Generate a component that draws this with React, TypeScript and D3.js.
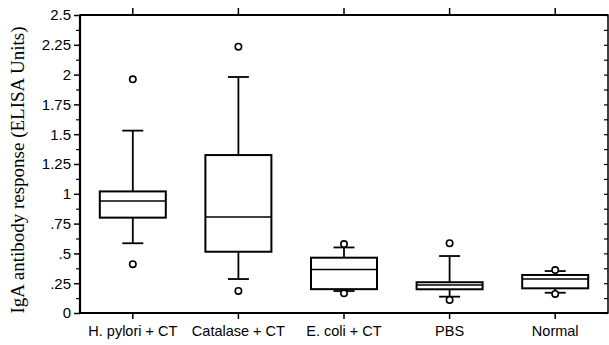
import { useEffect, useRef } from 'react';
import * as d3 from 'd3';

const categories = ['H. pylori + CT', 'Catalase + CT', 'E. coli + CT', 'PBS', 'Normal'];
const whiskerLow = [0.585, 0.285, 0.184, 0.137, 0.17];
const q1 = [0.8, 0.514, 0.2, 0.199, 0.207];
const medians = [0.94, 0.805, 0.365, 0.235, 0.285];
const q3 = [1.02, 1.325, 0.464, 0.258, 0.319];
const whiskerHigh = [1.53, 1.98, 0.55, 0.478, 0.352];
const outliers = [[1.96, 0.41], [2.234, 0.185], [0.578, 0.165], [0.585, 0.109], [0.36, 0.16]];
const majorTicks = [0, 0.25, 0.5, 0.75, 1, 1.25, 1.5, 1.75, 2, 2.25, 2.5];
const tickLabels = ['0', '.25', '.5', '.75', '1', '1.25', '1.5', '1.75', '2', '2.25', '2.5'];
const minorTicks = [0.125, 0.375, 0.625, 0.875, 1.125, 1.375, 1.625, 1.875, 2.125, 2.375];

const App = () => {
    const svgRef = useRef();

    useEffect(() => {
        const svg = d3.select(svgRef.current);
        svg.selectAll('*').remove();

        const W = 609, H = 345;
        const margin = { top: 15, right: 1, bottom: 32, left: 80 };
        const width = W - margin.left - margin.right;
        const height = H - margin.top - margin.bottom;

        const x = d3.scaleBand().domain(categories).range([0, width]).padding(0);
        const y = d3.scaleLinear().domain([0, 2.5]).range([height, 0]);

        const g = svg.append('g').attr('transform', `translate(${margin.left},${margin.top})`);

        const boxW = 66;
        const capW = 21;

        categories.forEach((c, i) => {
            const cx = x(c) + x.bandwidth() / 2;
            const grp = g.append('g').attr('stroke', '#000').attr('fill', 'none');
            // whiskers
            grp.append('line').attr('x1', cx).attr('x2', cx).attr('y1', y(q3[i])).attr('y2', y(whiskerHigh[i])).attr('stroke-width', 1.8);
            grp.append('line').attr('x1', cx).attr('x2', cx).attr('y1', y(q1[i])).attr('y2', y(whiskerLow[i])).attr('stroke-width', 1.8);
            grp.append('line').attr('x1', cx - capW / 2).attr('x2', cx + capW / 2).attr('y1', y(whiskerHigh[i])).attr('y2', y(whiskerHigh[i])).attr('stroke-width', 1.8);
            grp.append('line').attr('x1', cx - capW / 2).attr('x2', cx + capW / 2).attr('y1', y(whiskerLow[i])).attr('y2', y(whiskerLow[i])).attr('stroke-width', 1.8);
            // box
            grp.append('rect')
                .attr('x', cx - boxW / 2).attr('width', boxW)
                .attr('y', y(q3[i])).attr('height', y(q1[i]) - y(q3[i]))
                .attr('fill', '#fff').attr('stroke-width', 2);
            grp.append('line').attr('x1', cx - boxW / 2).attr('x2', cx + boxW / 2).attr('y1', y(medians[i])).attr('y2', y(medians[i])).attr('stroke-width', 1.5);
            // outliers
            outliers[i].forEach(v => {
                grp.append('circle').attr('cx', cx).attr('cy', y(v)).attr('r', 3.2).attr('fill', '#fff').attr('stroke-width', 1.6);
            });
        });

        // frame
        g.append('rect').attr('x', 0).attr('y', 0).attr('width', width).attr('height', height)
            .attr('fill', 'none').attr('stroke', '#000').attr('stroke-width', 1.5);
        g.append('line').attr('x1', 0).attr('x2', width).attr('y1', 0).attr('y2', 0).attr('stroke', '#000').attr('stroke-width', 2);
        g.append('line').attr('x1', 0).attr('x2', width).attr('y1', height).attr('y2', height).attr('stroke', '#000').attr('stroke-width', 2.2);
        g.append('line').attr('x1', 0).attr('x2', 0).attr('y1', 0).attr('y2', height).attr('stroke', '#000').attr('stroke-width', 2.2);

        // left axis
        const yAxis = g.append('g')
            .call(d3.axisLeft(y).tickValues(majorTicks).tickSize(6).tickPadding(3)
                .tickFormat((d, i) => tickLabels[i]));
        yAxis.select('.domain').remove();
        yAxis.selectAll('line').attr('stroke-width', 1.5);
        yAxis.selectAll('text').attr('font-family', 'Liberation Sans, Arial, sans-serif').attr('font-size', 15).attr('fill', '#000');

        g.append('g').call(d3.axisLeft(y).tickValues(minorTicks).tickSize(4).tickFormat(() => ''))
            .call(a => a.select('.domain').remove())
            .selectAll('line').attr('stroke-width', 1.2);

        // right axis ticks (inward)
        g.append('g').attr('transform', `translate(${width},0)`)
            .call(d3.axisLeft(y).tickValues(majorTicks.concat(minorTicks)).tickSize(4).tickFormat(() => ''))
            .call(a => a.select('.domain').remove())
            .selectAll('line').attr('stroke-width', 1.2);

        // bottom axis
        const xAxis = g.append('g').attr('transform', `translate(0,${height})`)
            .call(d3.axisBottom(x).tickSize(6).tickPadding(7));
        xAxis.select('.domain').remove();
        xAxis.selectAll('line').attr('stroke-width', 1.5);
        xAxis.selectAll('text').attr('font-family', 'Liberation Sans, Arial, sans-serif').attr('font-size', 14.5).attr('fill', '#000');

        // top ticks (outward)
        g.append('g')
            .call(d3.axisTop(x).tickSize(7).tickFormat(() => ''))
            .call(a => a.select('.domain').remove())
            .selectAll('line').attr('stroke-width', 1.5);

        // y label
        svg.append('text')
            .attr('transform', `translate(24,${margin.top + height / 2 + 6}) rotate(-90)`)
            .attr('text-anchor', 'middle')
            .attr('font-family', 'Liberation Serif, Times New Roman, serif')
            .attr('font-size', 19)
            .attr('fill', '#000')
            .text('IgA antibody response (ELISA Units)');
    }, []);

    return (
        <div style={{ position: 'absolute', left: 0, top: 0, width: 609, height: 345, background: '#fff' }}>
            <svg ref={svgRef} width={609} height={345} />
        </div>
    );
};

export default App;
